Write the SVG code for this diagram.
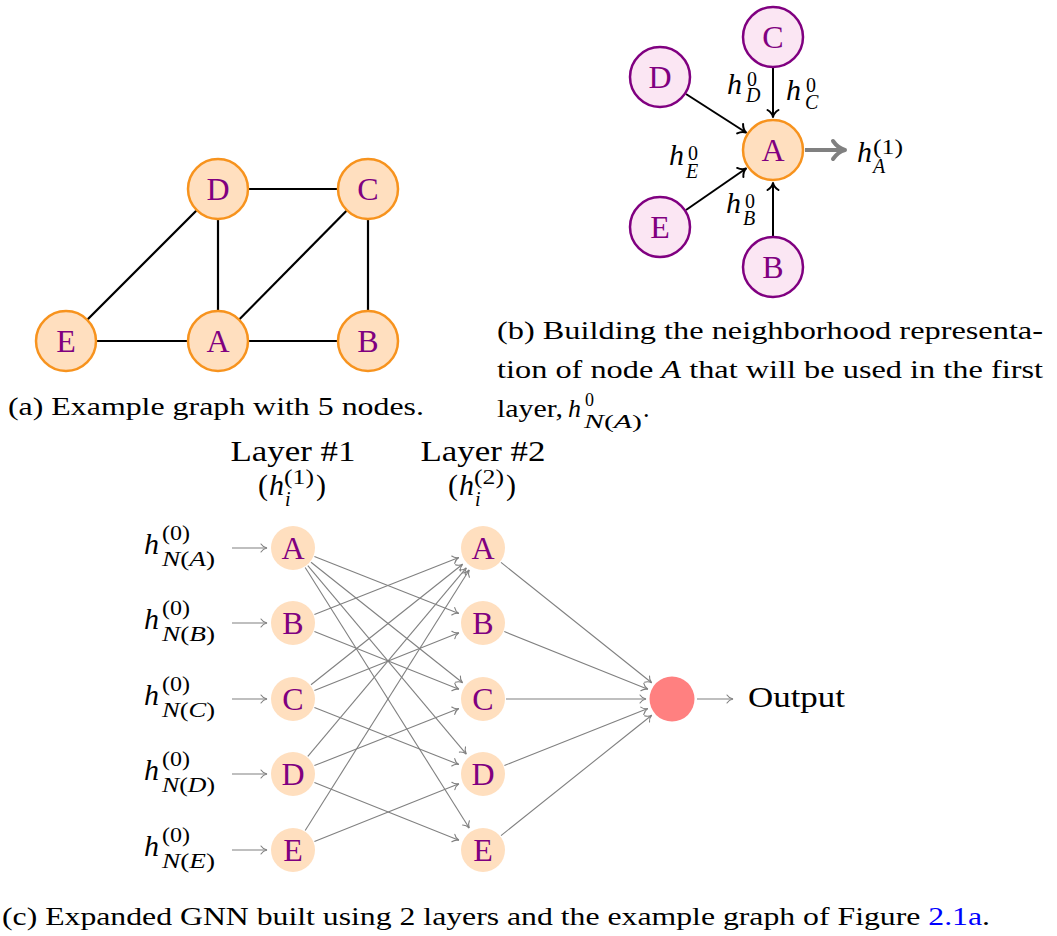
<svg xmlns="http://www.w3.org/2000/svg" width="1057" height="936" viewBox="0 0 1057 936">
<style>
text{font-family:"Liberation Serif","Times New Roman",serif;fill:#000}
.cap{font-size:26px}
.lbl{font-size:32px;fill:#800080;text-anchor:middle}
.m{font-style:italic}
.big{font-size:30px}
.sm{font-size:20px}
.xs{font-size:18px}
.na{fill:#ffdfbf;stroke:#f7931e;stroke-width:2.5}
.nb{fill:#fbe6f3;stroke:#800080;stroke-width:2.5}
.nc{fill:#ffdfbf}
.ea{stroke:#000;stroke-width:2.2;fill:none}
.eb{stroke:#000;stroke-width:2;fill:none;marker-end:url(#arB)}
.eg{stroke:#808080;stroke-width:1.1;fill:none;marker-end:url(#arG)}
</style>
<defs>
<marker id="arG" markerUnits="userSpaceOnUse" viewBox="-9 -6 10 12" markerWidth="10" markerHeight="12" refX="0" refY="0" orient="auto" overflow="visible">
<path d="M -6 -4 C -4.5 -1.6 -2 -0.4 0 0 C -2 0.4 -4.5 1.6 -6 4" fill="none" stroke="#808080" stroke-width="1.1" stroke-linecap="round"/>
</marker>
<marker id="arB" markerUnits="userSpaceOnUse" viewBox="-10 -8 12 16" markerWidth="12" markerHeight="16" refX="0" refY="0" orient="auto" overflow="visible">
<path d="M -7 -5.5 C -5 -2.2 -2.5 -0.5 0 0 C -2.5 0.5 -5 2.2 -7 5.5" fill="none" stroke="#000" stroke-width="2" stroke-linecap="round" stroke-linejoin="round"/>
</marker>
<marker id="arT" markerUnits="userSpaceOnUse" viewBox="-16 -12 18 24" markerWidth="18" markerHeight="24" refX="0" refY="0" orient="auto" overflow="visible">
<path d="M -12 -9 C -8.5 -4 -4 -1 0 0 C -4 1 -8.5 4 -12 9" fill="none" stroke="#808080" stroke-width="4" stroke-linecap="round" stroke-linejoin="round"/>
</marker>
</defs>

<!-- (a) example graph -->
<g id="edges-a">
<line class="ea" x1="218" y1="189" x2="368" y2="189"/>
<line class="ea" x1="218" y1="189" x2="66" y2="341"/>
<line class="ea" x1="218" y1="189" x2="218" y2="341"/>
<line class="ea" x1="218" y1="341" x2="368" y2="189"/>
<line class="ea" x1="368" y1="189" x2="368" y2="341"/>
<line class="ea" x1="66" y1="341" x2="218" y2="341"/>
<line class="ea" x1="218" y1="341" x2="368" y2="341"/>
</g>
<g id="a-D"><circle class="na" cx="218" cy="189" r="30"/><text class="lbl" x="218" y="200">D</text></g>
<g id="a-C"><circle class="na" cx="368" cy="189" r="30"/><text class="lbl" x="368" y="200">C</text></g>
<g id="a-E"><circle class="na" cx="66" cy="341" r="30"/><text class="lbl" x="66" y="352">E</text></g>
<g id="a-A"><circle class="na" cx="218" cy="341" r="30"/><text class="lbl" x="218" y="352">A</text></g>
<g id="a-B"><circle class="na" cx="368" cy="341" r="30"/><text class="lbl" x="368" y="352">B</text></g>
<text class="cap" x="8" y="415" textLength="416" lengthAdjust="spacingAndGlyphs">(a) Example graph with 5 nodes.</text>

<!-- (b) neighborhood -->
<g id="edges-b">
<line class="eb" x1="773" y1="68" x2="773" y2="117"/>
<line class="eb" x1="686" y1="94" x2="746" y2="132.5"/>
<line class="eb" x1="686" y1="210" x2="746" y2="168.5"/>
<line class="eb" x1="773" y1="236" x2="773" y2="183"/>
<line x1="805" y1="150" x2="845" y2="150" stroke="#808080" stroke-width="4" marker-end="url(#arT)"/>
</g>
<g id="b-C"><circle class="nb" cx="773" cy="37" r="30"/><text class="lbl" x="773" y="48">C</text></g>
<g id="b-D"><circle class="nb" cx="660" cy="77" r="30"/><text class="lbl" x="660" y="88">D</text></g>
<g id="b-A"><circle class="na" cx="773" cy="150" r="30"/><text class="lbl" x="773" y="161">A</text></g>
<g id="b-E"><circle class="nb" cx="660" cy="227" r="30"/><text class="lbl" x="660" y="238">E</text></g>
<g id="b-B"><circle class="nb" cx="773" cy="267" r="30"/><text class="lbl" x="773" y="278">B</text></g>
<g id="b-labels">
<text class="big m" x="727" y="94">h</text><text class="sm" x="747" y="86">0</text><text class="sm m" x="746" y="102">D</text>
<text class="big m" x="786" y="100">h</text><text class="sm" x="806" y="92">0</text><text class="sm m" x="805" y="109">C</text>
<text class="big m" x="669" y="165">h</text><text class="sm" x="688" y="160">0</text><text class="sm m" x="686" y="178">E</text>
<text class="big m" x="726" y="213">h</text><text class="sm" x="745" y="208">0</text><text class="sm m" x="743" y="225">B</text>
<text class="big m" x="857" y="162">h</text><text class="sm" x="873" y="154" textLength="30" lengthAdjust="spacingAndGlyphs">(1)</text><text class="sm m" x="873" y="173">A</text>
</g>
<text class="cap" x="497" y="339" textLength="546" lengthAdjust="spacingAndGlyphs">(b) Building the neighborhood representa-</text>
<text class="cap" x="497" y="378" textLength="546" lengthAdjust="spacingAndGlyphs">tion of node <tspan class="m">A</tspan> that will be used in the first</text>
<text class="cap" x="497" y="417" textLength="66" lengthAdjust="spacingAndGlyphs">layer,</text>
<text class="cap m" x="568" y="417">h</text>
<text class="xs" x="585" y="406">0</text>
<text class="xs" x="584" y="428" textLength="58" lengthAdjust="spacingAndGlyphs"><tspan class="m">N</tspan>(<tspan class="m">A</tspan>)</text>
<text class="cap" x="643" y="417">.</text>

<!-- (c) expanded GNN -->
<g id="headers">
<text class="big" x="293" y="461" text-anchor="middle" textLength="125" lengthAdjust="spacingAndGlyphs">Layer #1</text>
<text class="big" x="258" y="495">(</text><text class="big m" x="269" y="495">h</text><text class="sm" x="284" y="484" textLength="30" lengthAdjust="spacingAndGlyphs">(1)</text><text class="sm m" x="285" y="506">i</text><text class="big" x="316" y="495">)</text>
<text class="big" x="483" y="461" text-anchor="middle" textLength="125" lengthAdjust="spacingAndGlyphs">Layer #2</text>
<text class="big" x="448" y="495">(</text><text class="big m" x="459" y="495">h</text><text class="sm" x="474" y="484" textLength="30" lengthAdjust="spacingAndGlyphs">(2)</text><text class="sm m" x="475" y="506">i</text><text class="big" x="506" y="495">)</text>
</g>
<g id="inputs">
<text class="big m" x="144" y="554">h</text><text class="sm" x="162" y="540" textLength="28" lengthAdjust="spacingAndGlyphs">(0)</text><text class="sm" x="162" y="566" textLength="53" lengthAdjust="spacingAndGlyphs"><tspan class="m">N</tspan>(<tspan class="m">A</tspan>)</text>
<text class="big m" x="144" y="629">h</text><text class="sm" x="162" y="615" textLength="28" lengthAdjust="spacingAndGlyphs">(0)</text><text class="sm" x="162" y="641" textLength="53" lengthAdjust="spacingAndGlyphs"><tspan class="m">N</tspan>(<tspan class="m">B</tspan>)</text>
<text class="big m" x="144" y="705">h</text><text class="sm" x="162" y="691" textLength="28" lengthAdjust="spacingAndGlyphs">(0)</text><text class="sm" x="162" y="717" textLength="53" lengthAdjust="spacingAndGlyphs"><tspan class="m">N</tspan>(<tspan class="m">C</tspan>)</text>
<text class="big m" x="144" y="780">h</text><text class="sm" x="162" y="766" textLength="28" lengthAdjust="spacingAndGlyphs">(0)</text><text class="sm" x="162" y="792" textLength="53" lengthAdjust="spacingAndGlyphs"><tspan class="m">N</tspan>(<tspan class="m">D</tspan>)</text>
<text class="big m" x="144" y="856">h</text><text class="sm" x="162" y="842" textLength="28" lengthAdjust="spacingAndGlyphs">(0)</text><text class="sm" x="162" y="868" textLength="53" lengthAdjust="spacingAndGlyphs"><tspan class="m">N</tspan>(<tspan class="m">E</tspan>)</text>
</g>
<g id="connectors-c">
<line class="eg" x1="232" y1="548" x2="267" y2="548"/>
<line class="eg" x1="232" y1="623" x2="267" y2="623"/>
<line class="eg" x1="232" y1="699" x2="267" y2="699"/>
<line class="eg" x1="232" y1="774" x2="267" y2="774"/>
<line class="eg" x1="232" y1="850" x2="267" y2="850"/>
<line class="eg" x1="314.4" y1="556.4" x2="458.8" y2="613.5"/>
<line class="eg" x1="311.0" y1="562.3" x2="462.6" y2="682.8"/>
<line class="eg" x1="307.8" y1="565.6" x2="466.3" y2="754.1"/>
<line class="eg" x1="305.2" y1="567.5" x2="469.2" y2="828.0"/>
<line class="eg" x1="314.4" y1="614.6" x2="458.8" y2="557.5"/>
<line class="eg" x1="314.4" y1="631.5" x2="458.9" y2="689.3"/>
<line class="eg" x1="311.0" y1="684.7" x2="462.6" y2="564.2"/>
<line class="eg" x1="314.4" y1="690.5" x2="458.9" y2="632.7"/>
<line class="eg" x1="314.4" y1="707.4" x2="458.8" y2="764.5"/>
<line class="eg" x1="307.8" y1="756.4" x2="466.3" y2="567.9"/>
<line class="eg" x1="314.4" y1="765.6" x2="458.8" y2="708.5"/>
<line class="eg" x1="314.4" y1="782.5" x2="458.9" y2="840.3"/>
<line class="eg" x1="305.2" y1="830.5" x2="469.2" y2="570.0"/>
<line class="eg" x1="314.4" y1="841.5" x2="458.9" y2="783.7"/>
<line class="eg" x1="501.0" y1="562.4" x2="651.7" y2="682.8"/>
<line class="eg" x1="504.3" y1="631.6" x2="647.9" y2="689.3"/>
<line class="eg" x1="506" y1="699" x2="646" y2="699"/>
<line class="eg" x1="504.4" y1="765.5" x2="647.8" y2="708.6"/>
<line class="eg" x1="501.0" y1="835.6" x2="651.7" y2="715.2"/>
<line class="eg" x1="697" y1="699" x2="733" y2="699"/>
</g>
<g id="l1-A"><circle class="nc" cx="293" cy="548" r="22"/><text class="lbl" x="293" y="559">A</text></g>
<g id="l1-B"><circle class="nc" cx="293" cy="623" r="22"/><text class="lbl" x="293" y="634">B</text></g>
<g id="l1-C"><circle class="nc" cx="293" cy="699" r="22"/><text class="lbl" x="293" y="710">C</text></g>
<g id="l1-D"><circle class="nc" cx="293" cy="774" r="22"/><text class="lbl" x="293" y="785">D</text></g>
<g id="l1-E"><circle class="nc" cx="293" cy="850" r="22"/><text class="lbl" x="293" y="861">E</text></g>
<g id="l2-A"><circle class="nc" cx="483" cy="548" r="22"/><text class="lbl" x="483" y="559">A</text></g>
<g id="l2-B"><circle class="nc" cx="483" cy="623" r="22"/><text class="lbl" x="483" y="634">B</text></g>
<g id="l2-C"><circle class="nc" cx="483" cy="699" r="22"/><text class="lbl" x="483" y="710">C</text></g>
<g id="l2-D"><circle class="nc" cx="483" cy="774" r="22"/><text class="lbl" x="483" y="785">D</text></g>
<g id="l2-E"><circle class="nc" cx="483" cy="850" r="22"/><text class="lbl" x="483" y="861">E</text></g>
<g id="out"><circle cx="672" cy="699" r="22.5" fill="#ff8080"/></g>
<text class="big" x="748" y="707" textLength="97" lengthAdjust="spacingAndGlyphs">Output</text>
<text class="cap" x="2" y="925" textLength="988" lengthAdjust="spacingAndGlyphs">(c) Expanded GNN built using 2 layers and the example graph of Figure <tspan fill="#0000ff">2.1a</tspan>.</text>
</svg>
